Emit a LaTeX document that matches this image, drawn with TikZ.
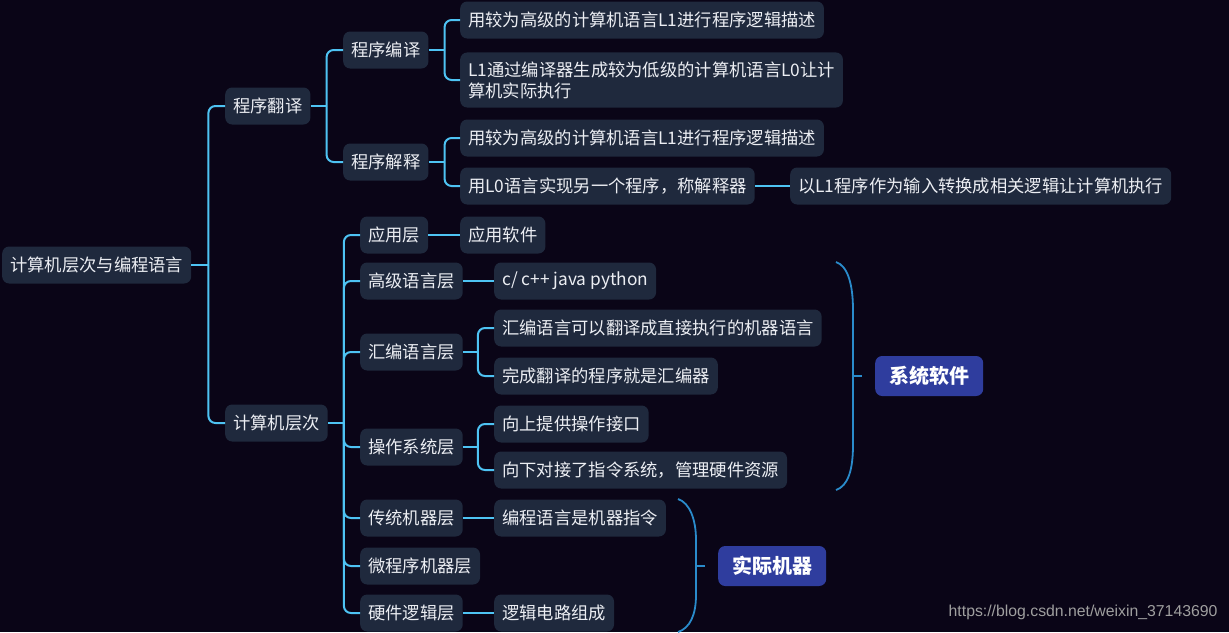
\documentclass[tikz,border=0pt]{standalone}
\usepackage{fontspec}
\setmainfont{Noto Sans CJK SC}
\newfontfamily\wmfont{Liberation Sans}
\usepackage{xcolor}
\usepackage{tikz}
\usetikzlibrary{positioning}

\definecolor{bgdark}{HTML}{0A0517}
\definecolor{boxfill}{HTML}{1F293D}
\definecolor{linkblue}{HTML}{4EC3F3}
\definecolor{braceblue}{HTML}{2A8BCB}
\definecolor{sumfill}{HTML}{2F3D9E}
\definecolor{textwhite}{HTML}{ECEEF3}

\begin{document}
\begin{tikzpicture}[x=1pt,y=-1pt]
	\tikzstyle{topic}=[anchor=west,fill=boxfill,rounded corners=7pt,text=textwhite,
		font=\fontsize{17.3}{21}\selectfont,inner xsep=8pt,inner ysep=9pt,minimum height=37pt,align=left]
	\tikzstyle{summary}=[anchor=west,fill=sumfill,rounded corners=7pt,text=white,
		font=\fontsize{20}{24}\selectfont\bfseries,inner xsep=14pt,minimum height=40pt]
	\tikzstyle{link}=[draw=linkblue,line width=2pt,rounded corners=7pt]
	\tikzstyle{brace}=[draw=braceblue,line width=1.8pt]
	\fill[bgdark] (0,0) rectangle (1229,632);
	\useasboundingbox (0,0) rectangle (1229,632);

	\node[topic](root) at (2,265) {计算机层次与编程语言};
	\node[topic](fy) at (225,106) {程序翻译};
	\node[topic](cc) at (225,423) {计算机层次};
	\node[topic](by) at (343,50) {程序编译};
	\node[topic](js) at (343,162) {程序解释};
	\node[topic](by1) at (460,20) {用较为高级的计算机语言L1进行程序逻辑描述};
	\node[topic](by2) at (460,80) {L1通过编译器生成较为低级的计算机语言L0让计\\算机实际执行};
	\node[topic](js1) at (460,138) {用较为高级的计算机语言L1进行程序逻辑描述};
	\node[topic](js2) at (460,186) {用L0语言实现另一个程序，称解释器};
	\node[topic](js3) at (790,186) {以L1程序作为输入转换成相关逻辑让计算机执行};
	\node[topic](yy) at (360,235) {应用层};
	\node[topic](yy1) at (460,235) {应用软件};
	\node[topic](gj) at (360,281) {高级语言层};
	\node[topic](gj1) at (494,281) {c/ c++ java python};
	\node[topic](hb) at (360,352) {汇编语言层};
	\node[topic](hb1) at (494,328) {汇编语言可以翻译成直接执行的机器语言};
	\node[topic](hb2) at (494,376) {完成翻译的程序就是汇编器};
	\node[topic](cz) at (360,447) {操作系统层};
	\node[topic](cz1) at (494,424) {向上提供操作接口};
	\node[topic](cz2) at (494,470) {向下对接了指令系统，管理硬件资源};
	\node[topic](ct) at (360,518) {传统机器层};
	\node[topic](ct1) at (494,518) {编程语言是机器指令};
	\node[topic](wc) at (360,566) {微程序机器层};
	\node[topic](yj) at (360,613) {硬件逻辑层};
	\node[topic](yj1) at (494,613) {逻辑电路组成};
	\node[summary](xt) at (875,376) {系统软件};
	\node[summary](sj) at (718,566) {实际机器};
	\node[anchor=east,text=gray!75,font=\wmfont\fontsize{15.8}{18}\selectfont](wm) at (1221,612) {https://blog.csdn.net/weixin\_37143690};

	\draw[link] (root.east) -- ++(17,0) coordinate (j0);
	\draw[link] (j0) |- (fy.west);
	\draw[link] (j0) |- (cc.west);
	\draw[link] (fy.east) -- ++(16,0) coordinate (j1);
	\draw[link] (j1) |- (by.west);
	\draw[link] (j1) |- (js.west);
	\draw[link] (by.east) -- ++(16,0) coordinate (j2);
	\draw[link] (j2) |- (by1.west);
	\draw[link] (j2) |- (by2.west);
	\draw[link] (js.east) -- ++(16,0) coordinate (j3);
	\draw[link] (j3) |- (js1.west);
	\draw[link] (j3) |- (js2.west);
	\draw[link] (js2.east) -- (js3.west);
	\draw[link] (cc.east) -- ++(16,0) coordinate (j4);
	\foreach \n in {yy,gj,hb,cz,ct,wc,yj}
		\draw[link] (j4) |- (\n.west);
	\draw[link] (yy.east) -- (yy1.west);
	\draw[link] (gj.east) -- (gj1.west);
	\draw[link] (hb.east) -- ++(15,0) coordinate (j5);
	\draw[link] (j5) |- (hb1.west);
	\draw[link] (j5) |- (hb2.west);
	\draw[link] (cz.east) -- ++(15,0) coordinate (j6);
	\draw[link] (j6) |- (cz1.west);
	\draw[link] (j6) |- (cz2.west);
	\draw[link] (ct.east) -- (ct1.west);
	\draw[link] (yj.east) -- (yj1.west);

	\draw[brace] (836,262) .. controls (848,266) and (853,285) .. (853,310) -- (853,445)
		.. controls (853,470) and (848,486) .. (836,490);
	\draw[brace] (853,376) -- ++(9,0) coordinate (b1);
	\draw[brace] (678,499) .. controls (690,503) and (696,520) .. (696,540) -- (696,595)
		.. controls (696,615) and (690,628) .. (678,632);
	\draw[brace] (696,566) -- ++(9,0) coordinate (b2);
\end{tikzpicture}
\end{document}
